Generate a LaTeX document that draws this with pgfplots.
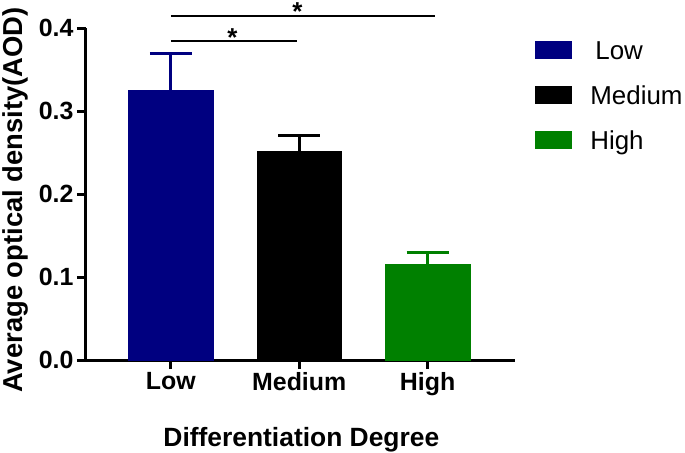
\documentclass[border=0pt]{standalone}
\usepackage{pgfplots}
\pgfplotsset{compat=1.18}
\usepackage{fontspec}
\setmainfont{Liberation Sans}
\definecolor{navyc}{RGB}{0,0,128}
\definecolor{greenc}{RGB}{0,128,0}
\begin{document}
\begin{tikzpicture}
\path[use as bounding box] (-86bp,-93bp) rectangle (599bp,360bp);
\begin{axis}[
  at={(0,0)}, anchor=south west,
  scale only axis, width=429bp, height=332bp,
  xmin=-0.66, xmax=2.68, ymin=0, ymax=0.4,
  clip=false,
  axis x line*=bottom, axis y line*=left,
  axis line style={line width=3bp, -},
  xtick={0,1,2}, xticklabels={Low,Medium,High},
  ytick={0,0.1,0.2,0.3,0.4},
  minor tick num=0,
  tick align=outside, major tick length=9bp,
  every tick/.style={black, line width=3bp},
  tick label style={font=\fontsize{25}{29}\selectfont\bfseries},
  /pgf/number format/fixed, /pgf/number format/fixed zerofill,
  /pgf/number format/precision=1, /pgf/number format/assume math mode=true,
  xlabel={Differentiation Degree},
  xlabel style={font=\fontsize{26.5}{30}\selectfont\bfseries, at={(axis description cs:0.502,-0.262)}, anchor=base},
  ylabel={Average optical density(AOD)},
  ylabel style={font=\fontsize{27.5}{31}\selectfont\bfseries, at={(axis description cs:-0.147,0.482)}, anchor=base, rotate=0},
  legend style={at={(1.0466,1.0015)}, anchor=north west, draw=none, fill=none,
    inner sep=0pt, outer sep=0pt, column sep=19bp,
    font=\fontsize{26}{30}\selectfont,
    nodes={inner sep=0pt, text height=31.6bp, text depth=13.4bp}},
  legend cell align=left,
]
\addplot[ybar, bar width=0.66, bar shift=0pt, fill=navyc, draw=navyc,
  legend image code/.code={\fill[navyc] (0bp,-8.5bp) rectangle (36bp,8.5bp);},
  error bars/.cd, y dir=plus, y explicit,
  error bar style={line width=3bp, navyc},
  error mark options={rotate=90, line width=3bp, mark size=21bp, navyc}]
  coordinates {(0,0.3253) +- (0,0.0434)};
\addlegendentry{\hspace{5bp}Low}
\addplot[ybar, bar width=0.66, bar shift=0pt, fill=black, draw=black,
  legend image code/.code={\fill[black] (0bp,-8.5bp) rectangle (36bp,8.5bp);},
  error bars/.cd, y dir=plus, y explicit,
  error bar style={line width=3bp, black},
  error mark options={rotate=90, line width=3bp, mark size=21bp, black}]
  coordinates {(1,0.2510) +- (0,0.0189)};
\addlegendentry{Medium}
\addplot[ybar, bar width=0.66, bar shift=0pt, fill=greenc, draw=greenc,
  legend image code/.code={\fill[greenc] (0bp,-8.5bp) rectangle (36bp,8.5bp);},
  error bars/.cd, y dir=plus, y explicit,
  error bar style={line width=3bp, greenc},
  error mark options={rotate=90, line width=3bp, mark size=21bp, greenc}]
  coordinates {(2,0.1153) +- (0,0.0139)};
\addlegendentry{High}
\draw[line width=2bp] (axis cs:0,0.3843) -- (axis cs:0.98,0.3843);
\draw[line width=2bp] (axis cs:0,0.4145) -- (axis cs:2.06,0.4145);
\node[font=\fontsize{26}{30}\selectfont\bfseries, anchor=base, inner sep=0pt] at (axis cs:0.48,0.3783) {*};
\node[font=\fontsize{26}{30}\selectfont\bfseries, anchor=base, inner sep=0pt] at (axis cs:0.985,0.4088) {*};
\end{axis}
\end{tikzpicture}
\end{document}
